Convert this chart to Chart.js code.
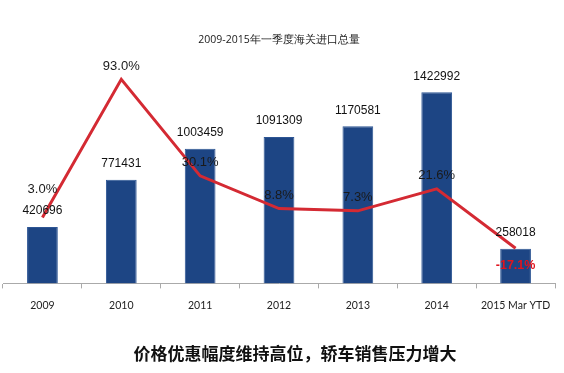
<!DOCTYPE html>
<html>
<head>
<meta charset="utf-8">
<script src="https://cdn.jsdelivr.net/npm/chart.js@4"></script>
<style>
  html, body { margin: 0; padding: 0; background: #fff; }
  #wrap { position: relative; width: 564px; height: 373px; }
  #footer {
    position: absolute; left: 0; top: 340px; width: 590px; text-align: center;
    font: bold 17px "Noto Sans CJK SC", sans-serif; color: #111;
  }
</style>
</head>
<body>
<div id="wrap">
  <canvas id="importChart" width="564" height="373"></canvas>
  <div id="footer">价格优惠幅度维持高位，轿车销售压力增大</div>
</div>
<script>
// data
const years = ['2009', '2010', '2011', '2012', '2013', '2014', '2015 Mar YTD'];
const importVolume = [420696, 771431, 1003459, 1091309, 1170581, 1422992, 258018];
const growthPct = [3.0, 93.0, 30.1, 8.8, 7.3, 21.6, -17.1];

// label placement for the % labels (px above the point; negative = below)
const pctLabelOffsets = [28, 13, 13, 13, 13, 13, -17];
const pctLabelColors = ['#1a1a1a', '#1a1a1a', '#1a1a1a', '#1a1a1a', '#1a1a1a', '#1a1a1a', '#e0141e'];

const narrow = '"Liberation Sans Narrow", "Liberation Sans", sans-serif';

// draws the values above bars and percentages by the line
const valueLabels = {
  id: 'valueLabels',
  afterDatasetsDraw(chart) {
    const ctx = chart.ctx;
    ctx.save();
    ctx.textAlign = 'center';
    ctx.textBaseline = 'middle';

    const bars = chart.getDatasetMeta(1).data;
    ctx.font = '12px ' + narrow;
    bars.forEach((bar, i) => {
      ctx.fillStyle = '#111';
      ctx.fillText(String(importVolume[i]), bar.x, bar.y - 16);
    });

    const pts = chart.getDatasetMeta(0).data;
    pts.forEach((pt, i) => {
      ctx.font = (growthPct[i] < 0 ? 'bold 12.5px ' : '13px ') + narrow;
      ctx.fillStyle = pctLabelColors[i];
      ctx.fillText(growthPct[i].toFixed(1) + '%', pt.x, pt.y - pctLabelOffsets[i]);
    });
    ctx.restore();
  }
};

const ctx = document.getElementById('importChart').getContext('2d');
new Chart(ctx, {
  data: {
    labels: years,
    datasets: [
      {
        type: 'line',
        data: growthPct,
        yAxisID: 'y2',
        borderColor: '#d42a33',
        borderWidth: 3,
        pointRadius: 0,
        tension: 0,
        order: 0
      },
      {
        type: 'bar',
        data: importVolume,
        yAxisID: 'y',
        backgroundColor: '#1d4584',
        borderColor: '#2d5594',
        borderWidth: 1,
        categoryPercentage: 1,
        barPercentage: 0.39,
        order: 1
      }
    ]
  },
  options: {
    responsive: false,
    animation: false,
    layout: { padding: { left: 3, right: 9, bottom: 50 } },
    plugins: {
      legend: { display: false },
      tooltip: { enabled: false },
      title: {
        display: true,
        text: '2009-2015年一季度海关进口总量',
        color: '#1a1a1a',
        font: { family: '"Open Sans", sans-serif', size: 10.5, weight: 'normal' },
        padding: { top: 34, bottom: 22 }
      }
    },
    scales: {
      x: {
        grid: { offset: true, drawOnChartArea: false, tickLength: 5, color: '#aaa' },
        border: { color: '#aaa' },
        ticks: {
          color: '#222', padding: 11,
          font: { family: 'Lato, sans-serif', size: 10.5 },
          maxRotation: 0, autoSkip: false
        }
      },
      y: { display: false, min: 0, max: 1600000 },
      y2: { display: false, min: -40, max: 100 }
    }
  },
  plugins: [valueLabels]
});
</script>
</body>
</html>
